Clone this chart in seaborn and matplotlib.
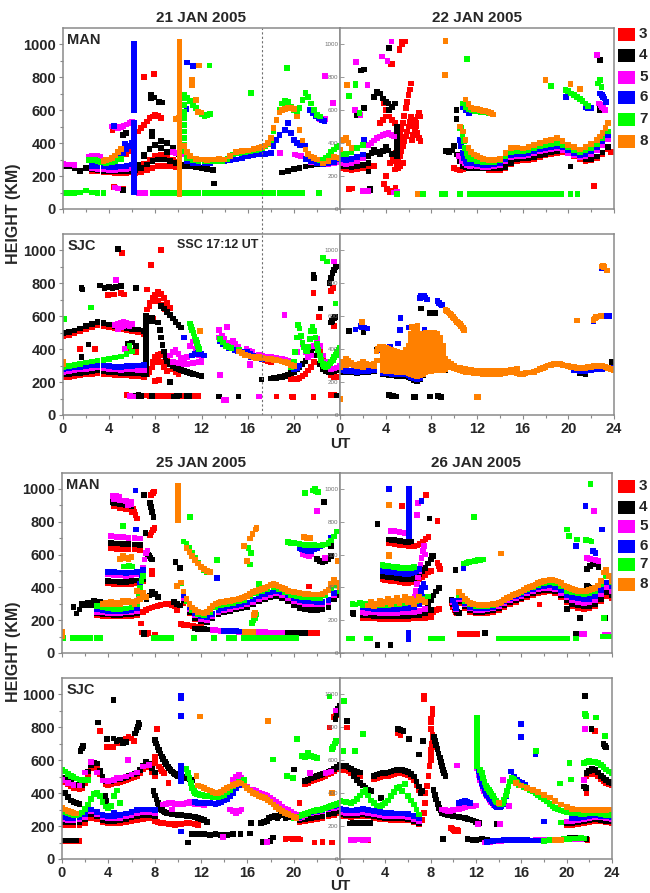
import matplotlib
matplotlib.use('Agg')
import matplotlib.pyplot as plt
import seaborn as sns
import pandas as pd
from matplotlib.patches import Rectangle
from matplotlib.ticker import MultipleLocator, FixedLocator

FREQS = ['3', '4', '5', '6', '7', '8']
COLORS = ['#ff0000', '#000000', '#ff00ff', '#0000ff', '#00ff00', '#ff8000']
DATES = ['21 JAN 2005', '22 JAN 2005', '25 JAN 2005', '26 JAN 2005']
YTICKS = [0, 200, 400, 600, 800, 1000]
XTICKS = [0, 4, 8, 12, 16, 20, 24]

# each entry: (start hour, step hour, [heights km]); step 0 = several echoes at one time
# ---------------- 21 JAN MAN ----------------
MAN21_F3 = [(2.5,0.5,[232,228,225,222,220,218,220,222]),(6.25,0.5,[215,222,235,250,260,262,258,255]),
    (6.5,0.5,[250,272,300,322,330,318,298,285]),(6.5,0.25,[470,490,510,530,550,560,570,565,555]),
    (5.5,0.25,[330,350,370]),(4.3,0,[477]),(4.4,0,[135]),(4.8,0,[125]),(5.2,0,[120]),
    (7.0,0,[800]),(7.9,0,[820]),(8.5,0,[550]),(23.25,0.25,[295,300,305])]
MAN21_F4 = [(0,0.5,[262,258,245,230,250,260]),(2.5,0.5,[240,236,232,230,228,228,230,232]),
    (6.25,0.5,[235,250,270,290,300,300,290,280,270]),(6.5,0.5,[270,320,360,390,410,400,370,330]),
    (7.0,0.5,[330,365,385,370,345]),(5.2,0.25,[450,460]),(5.2,0,[117]),
    (7.6,0,[690,670]),(7.9,0,[675]),(8.3,0,[650]),(8.6,0,[645]),(7.7,0,[440,470]),
    (10.5,0.5,[262,258,252,248,242,235]),(13.1,0,[155]),
    (19.0,0.5,[222,232,242,250,258,265,272,278,284,288,290])]
MAN21_F5 = [(0,0.5,[272,270,265]),(2.25,0.25,[318,322,325,320,315]),(2.5,0.5,[245,243,240,238,238,240,242,245]),
    (4.25,0.25,[500,495,490,495,505,512,520,528]),(4.5,0.25,[130,125]),(6.6,0.25,[97,97,97]),
    (9.5,0.25,[345,340,338,335]),(18.8,0,[340]),(20.1,0.25,[330,325,320]),
    (22.0,0.25,[560,545,540,545]),(22.7,0,[808]),(23.4,0,[642]),(21.0,0.5,[300,285,275,270,270,275,285])]
MAN21_F6 = [(2.5,0.5,[262,260,258,255,255,258,262,270]),(4.75,0.25,[300,320,340,360,380,400]),
    (6.15,0,[100,125,150,175,200,225,250,275,300,325,350,375,400,425,450,475,500,525,600,625,650,675,700,
             725,750,775,800,825,850,875,900,925,950,975,1000]),
    (4.4,0,[505]),(5.4,0,[395]),(10.75,0,[888]),(11.25,0,[865]),(10.7,0,[606]),
    (10.75,0.5,[290,280,275,275,278]),(13.0,0.5,[290,290,292,295,300,308,318,325,330,335,338]),
    (18.25,0.25,[380,420,450]),(19.25,0.25,[480,520,460,420,400,390,385,380]),
    (21.4,0.25,[600,580,560,550,540,535]),(21.0,0.5,[305,290,280,272,275,285,300])]
MAN21_F7 = [(0,0.5,[95,95,96,100,112,100,96,95]),
    (7.75,0.5,[96,95,95,95,97,95,95,95,95,95,95,96,95,95,95,95,95,95,95,95,95,95,95,95,95,95,95]),
    (22.2,0,[95]),(2.25,0.25,[295,300,298,290,285,282,280,282,285,292,300,305]),
    (10.5,0,[350,390,430,470,510,550,590,630,670]),(10.5,0.25,[690,675,655,630,610,590,575,565,570,575]),
    (10.75,0.5,[310,295,290,288,290,292,290,305,330,340,345,352,358]),
    (17.0,0.25,[360,368,378,395,420,470,540,600,640,655,650,620,600,590,610,660,705,680,640,600,570,560]),
    (22.0,0.25,[300,295,298,310,325,345,360,375,385]),(19.4,0,[855]),(12.7,0,[870]),(16.3,0,[703])]
MAN21_F8 = [(3.5,0.25,[290,295,300,310,325,345,365]),
    (10.1,0,[90,110,130,150,170,190,210,230,250,270,290,310,330,350,370,390,410,430,450,470,490,510,530,550,
             570,590,610,630,650,670,690,710,730,750,770,790,810,830,850,870,890,910,930,950,970,990,1010]),
    (9.8,0,[545]),(10.0,0,[555]),(11.2,0,[785,765,750]),(11.8,0,[870]),(11.5,0,[660]),(11.7,0,[590]),(12.0,0,[585]),
    (10.5,0.5,[380,320,305,300,298,300,302,300,320,345,352,355,362,368]),(10.75,0,[345]),
    (17.25,0.25,[375,385,400,430,490,540,585,600,608,612,610,605,560,480,415,360,335,318]),
    (21.75,0,[308]),(22.0,0.5,[300,275,290,315,310])]
# ---------------- 22 JAN MAN ----------------
MAN22_F3 = [(0,0.5,[245,240,238,242,250,255,262]),(4.75,0.125,[300,340,380,415,450,485,520,565,610,650,690,725,760]),
    (5.0,0.125,[260,290,320,350,380,410,440,470,500,530,560]),(4.8,0.25,[240,250,260,280]),
    (6.3,0.125,[420,450,480,520,560,580,560]),(6.3,0.125,[500,520,540,500,460,430,410]),
    (5.4,0,[1016,1000]),(5.7,0,[1016]),(5.2,0,[970,960]),(4.45,0,[875]),(4.6,0,[880]),
    (3.5,0.25,[520,540,560]),(3.8,0.25,[640,600,560,540,520]),(0.8,0,[120]),(1.1,0,[125]),(4.0,0,[198]),
    (3.85,0.25,[150,120,100,110,130]),(4.4,0.25,[280,300,290,260]),
    (10.0,0.25,[250,240,238,242,245,248,250,252,252,250,248]),
    (13.0,0.5,[235,235,238,245,270,292,298,296,302,315,325,333,340,344,336,318,304,290,295,308,332,365]),
    (22.2,0,[141]),(22.3,0,[141]),(23.75,0,[345])]
MAN22_F4 = [(0,0.5,[262,258,255,258,268,280]),(2.5,0.25,[320,340,360,345,330,350,375,355,335]),
    (3.0,0.25,[680,710,700,670,650,640]),(4.3,0.25,[600,620,640]),(5.0,0,[320,350,380,410,440,470,500]),
    (1.5,0,[570]),(2.1,0,[612]),(1.85,0,[840]),(2.1,0,[845]),(4.3,0,[975]),(2.5,0,[228]),(2.6,0,[115,120]),
    (9.3,0.25,[350,345,355]),(10.2,0,[545,600]),(10.0,0.25,[380,330,290,262,252,250,248,248,247,246,245]),
    (13.0,0.5,[245,245,248,255,280,303,308,306,312,325,335,343,350,354,346,328,314,300,305,318,342,375]),
    (20.2,0,[258]),(22.75,0,[905]),(22.8,0,[600,612,625])]
MAN22_F5 = [(0,0.5,[275,270,275,290,310]),(2.5,0.25,[390,400,415,430,440,450,455,460,450,440]),
    (4.5,0,[1016]),(3.7,0,[925]),(4.15,0,[895]),(1.4,0,[890]),(2.4,0,[750]),(1.3,0,[600]),(1.8,0,[570]),
    (2.0,0.25,[110,108,110]),(4.7,0,[100]),(5.0,0,[105]),(10.4,0.25,[320,290,275,265,260]),
    (11.5,0.5,[265,258,255,255,258,268,292,315,320,318,325,338,348,356,362,366,358,340,325,312,318,332,358,390,425]),
    (22.5,0,[935]),(22.7,0.125,[640,630,620,610,600])]
MAN22_F6 = [(0,0.5,[300,298,305,315,330]),(2.1,0,[420]),(10.8,0.25,[620,600,580]),
    (10.5,0.125,[420,380,340,310,290,280]),
    (11.5,0.5,[280,272,268,268,270,280,305,328,333,332,340,352,362,370,376,380,372,355,340,328,335,350,375,410,445]),
    (19.8,0,[679]),(21.5,0.25,[620,610,612]),(22.8,0.125,[700,690,680,670,650])]
MAN22_F7 = [(0,0.5,[330,335,345,370,390]),(0.8,0,[683]),(1.35,0,[760,750]),(1.7,0,[580]),
    (5.0,0,[93]),(7.3,0,[93]),(8.9,0,[93]),(9.25,0,[93]),(10.5,0,[93]),
    (11.4,0.5,[93,93,93,93,93,93,93,93,93,93,93,93,93,93,93,93,93]),(20.2,0,[93]),(20.8,0,[93]),
    (10.5,0,[490]),(10.8,0.25,[640,620,605,598,595,592,590,588,585,580]),
    (10.6,0.125,[490,450,410,370,340,320,305]),
    (11.5,0.5,[300,290,285,283,285,295,320,345,350,348,355,370,380,388,395,400,390,372,358,345,355,370,395,430,470]),
    (11.1,0,[911]),(18.45,0,[747]),(19.75,0.25,[723,715,700,690,680,668,655,640,625]),
    (22.75,0,[784]),(22.6,0,[760]),(22.9,0,[740])]
MAN22_F8 = [(0,0.25,[360,420,430,400,370]),(0.6,0,[753]),(6.8,0,[93]),
    (11.0,0.25,[663,635,615,608,604,600,596,592,588,580]),(13.4,0,[572]),
    (10.5,0.25,[500,470,420,370,345,330,320,312,305]),
    (13.0,0.5,[297,298,305,340,370,372,366,375,390,402,410,420,430,410,388,375,360,375,392,420,460,520]),
    (22.75,0.5,[440,490]),(9.25,0,[1020]),(9.2,0,[814]),(18.0,0,[784]),(20.2,0,[757]),(21.05,0,[727])]
# ---------------- 21 JAN SJC ----------------
SJC21_F3 = [(0,0.5,[478,485,495,508,520,535,545,540,532,525,518,512,506,502,492]),
    (0,0.5,[228,232,236,240,245,250,252,248,245,242,240,240,238,236,232]),
    (7.25,0.25,[250,280,320,350,365,370,360,340,310,280,260,250]),(7.5,0.25,[260,290,320,330,320,290,265]),
    (7.25,0.25,[640,680,710,730,745,735,710,680,650]),(7.5,0.25,[660,690,700,690,670]),
    (7.6,0,[910]),(8.5,0,[1000]),(7.3,0,[760]),(8.6,0,[660]),(8.8,0,[640]),(7.8,0,[585]),
    (3.9,0,[727]),(4.4,0,[730]),(5.0,0,[740]),(5.3,0,[730]),(5.1,0,[980]),
    (1.5,0,[400]),(2.8,0,[400]),(5.8,0,[390]),(6.3,0,[380]),(8.0,0,[208]),(8.3,0,[210]),
    (5.5,0.25,[120,118,116,115,115,116,118,118,117,115,115,115,115,115,115,115,115,115,115,115,115,115,115,115,115,115]),
    (18.5,0,[112]),(19.8,0,[112]),(19.9,0,[110]),(21.7,0,[110]),(23.2,0,[122]),(23.5,0,[120]),
    (17.5,0.25,[330,325,320]),
    (19.75,0.25,[215,218,220,225,235,250,270,290,320,360,390,350,300,262,242,232,228,232]),
    (21.7,0,[740]),(23.4,0,[770]),(22.2,0,[596]),(23.5,0,[540]),(23.2,0,[750])]
SJC21_F4 = [(0,0.5,[495,502,512,525,538,552,562,556,548,540,534,528,522,518,508]),
    (0,0.5,[245,248,252,256,262,268,270,265,262,258,255,255,254,252,250]),
    (1.6,0,[768]),(1.7,0,[760]),(3.2,0,[785]),(3.6,0,[770]),(4.0,0,[775]),(4.3,0,[770]),(4.6,0,[775]),(5.0,0,[780]),
    (4.75,0,[1004]),(1.6,0,[353]),(2.2,0,[428]),(5.6,0,[430]),(6.0,0,[440]),(6.3,0,[420]),(6.3,0,[768]),
    (7.2,0,[600,570,540,510,480,450,420,390,360,330,300,270,250]),
    (8.25,0.125,[560,515,470,425,385,350,325]),(9.25,0.25,[310,295,285,278,272,265,260,255,250,245,240,235]),
    (8.5,0.25,[660,645,625,605,585,565,545,530]),(7.7,0,[590,570]),(9.3,0,[202]),
    (6.3,0.25,[115,120,115]),(9.6,0.25,[112,115,118]),(10.7,0.25,[115,117]),(6.8,0,[115]),(7.7,0,[115]),
    (13.5,0,[112]),(15.2,0,[112]),(23.7,0,[118]),(17.2,0,[215]),
    (18.0,0.25,[222,224,226,229,232,238,245,255,262,275,293,310,328,350,375,405,360,310,280,268,262,262,265,270,275]),
    (21.7,0,[848]),(21.75,0,[830]),(22.3,0,[646]),(23.1,0.125,[800,830,860,880,895,900]),
    (23.2,0.125,[560,570,585,596])]
SJC21_F5 = [(4.5,0.25,[545,555,560,565,560,555,550]),(4.75,0.25,[520,530,540,545,540]),
    (0,0.5,[262,265,270,275,280,286,290,285,280,276,274,275,275,274,272]),(4.6,0,[818]),(5.4,0,[400]),
    (9.25,0.25,[360,380,395,370,345,330,350,420,445,400,360,335]),
    (9.5,0.25,[320,318,315,312,310,310,312,315,318,320,318]),
    (5.8,0.25,[115,112]),(13.9,0,[90]),(14.1,0,[90]),(17.0,0,[112]),(13.5,0,[515]),(14.2,0,[535]),
    (13.5,0.25,[470,480,460,440,430,420]),(13.6,0,[242]),(14.7,0.25,[450,430,415]),(15.9,0.25,[400,390,385]),
    (16.2,0,[300,310]),(17.0,0.25,[362,358,355,352,350,348,345,342,338,332,328,318,308]),
    (20.0,0.25,[300,380,470,430,380,350,360,420,460,420,360,320,290,280,282,288,300]),
    (19.2,0,[606]),(23.5,0,[930])]
SJC21_F6 = [(0,0.5,[280,282,288,292,298,305,305,300,295,292,292,295,298,300,305]),(10.5,0,[470]),
    (11.2,0.25,[360,370,375,370,360]),(13.6,0.25,[450,430,415,405]),(14.9,0.25,[395,390,385]),
    (15.95,0.25,[380,370,360]),(16.25,0,[350]),(17.0,0.25,[345,340,338]),(20.0,0.25,[275,285,300])]
SJC21_F7 = [(0,0.5,[292,298,305,310,318,325,330,335,340,348,355,368,385]),(5.75,0,[420]),(0.1,0,[580]),(2.4,0,[652]),
    (11.0,0.1,[555,535,515,495,475,455,435,415,400]),(13.6,0.25,[460,440,420,410,405]),(15.25,0,[395]),
    (19.75,0.125,[290,300,320,380,470,545,525,480,440,410,392,385,410,460,510,535,510,470,430,395,360,335,310,
                  297,292,295,302,312,325,335,350,365,380,395,405]),
    (22.5,0,[950]),(22.9,0,[930]),(23.6,0,[676])]
SJC21_F8 = [(0,0,[310,320]),(11.85,0,[509]),(15.25,0.25,[385,375,365]),(16.0,0.25,[360,355,350,345]),
    (17.0,0.25,[350,345,342,340,338,335,332,330,325,320,315,305,295])]
# ---------------- 22 JAN SJC ----------------
SJC22_F3 = []
SJC22_F4 = [(0,0.5,[262,260,258,255,258,260,265]),(0.8,0,[511]),(2.05,0,[505]),(3.25,0,[395]),
    (3.75,0.25,[245,245,242,240,240,238,238,236,235,230,222,212,208,215,240,260,270,275,278,280,280,278,270]),
    (7.1,0,[646]),(7.85,0,[616]),(8.3,0,[616]),(4.3,0.125,[120,118,115,113,112,112]),(6.5,0.125,[108,108]),
    (7.9,0,[112]),(8.6,0.125,[115,112,110]),(21.0,0.25,[255,252,250]),(23.8,0,[320])]
SJC22_F5 = []
SJC22_F6 = [(0,0.5,[270,268,265,262,265,268,272]),(1.35,0,[519]),(1.9,0.25,[535,530,525]),(1.8,0,[540]),(3.3,0,[395]),
    (3.75,0.25,[255,255,252,250,250,248,248,246,245,240,232,222,218,225,250,270,280,285,288,290,290,288,280]),
    (7.0,0.125,[710,720,725,720,712,700]),(8.55,0.125,[690,680,670,665]),
    (5.3,0,[586]),(5.25,0,[515]),(6.05,0,[530]),(7.4,0,[515]),(5.1,0,[434]),(4.4,0,[414]),
    (22.95,0,[890]),(22.2,0,[566]),(23.55,0,[600]),(23.4,0,[600]),(20.5,0.5,[270,268,265,270,275,280,282,285])]
SJC22_F7 = []
SJC22_F8 = [(0,0.25,[310,320,340,330,315,305,300,310,325,310,302,305,312,330]),(0,0.5,[290,300,310,295,290,300,295]),
    (1.9,0,[565]),(3.2,0.125,[385,400,414]),
    (3.75,0.25,[410,405,400,395,390,385,378,376,385,420,490,530,520,490,492,495,495,495,495,492,470,420,340]),
    (3.75,0.25,[270,268,266,265,264,262,262,262,260,255,250,240,235,240,250,260,265,268,270,272,272,270,275]),
    (3.75,0.25,[285,284,282,281,280,279,279,278,276,272,268,260,256,261,270,279,283,285,288,290,290,288,290]),
    (3.75,0.25,[300,300,298,298,296,295,295,294,292,290,285,280,278,282,290,298,300,302,305,305,305,305,305]),
    (3.75,0.25,[320,319,317,316,315,314,313,312,311,310,308,307,309,312,318,322,323,324,325,325,325,325]),
    (3.75,0.25,[340,338,336,335,334,333,332,330,330,330,332,335,340,342,345,345,345,345,345,345,345,345]),
    (3.75,0.25,[358,356,354,352,350,348,346,344,348,355,360,362,365,366,365,365,365,365,365,365,365,365]),
    (3.75,0.25,[375,372,370,368,365,362,358,356,365,380,385,390,390,388,385,385,385,385,385,385,385,385]),
    (5.75,0.25,[395,400,405,408,410,410,408,405,408,410,410,410,408,405]),
    (6.0,0.25,[415,425,430,430,425,425,428,430,430,430,428,420]),
    (6.25,0.25,[440,445,448,445,442,440,442,445,445,442,440]),
    (6.25,0.25,[460,470,465,460,458,460,462,462,460,455]),
    (6.25,0.25,[480,500,495,478,470,472,475,478,476,470]),
    (6.3,0,[535]),(6.8,0,[540]),(9.25,0.125,[636,630,622,615,605,595,585,575,565,558,550,540,528,515]),
    (9.25,0.25,[330,320,310]),
    (9.5,0.25,[300,290,283,278,272,265,262,260,258,255,252,251,250,249,248,248,249,250,250,252,256,262,262,258,
               252,248,250,254,257,258,262,270,278,283,290,300,305,308,310,308,305,300,296,293,290,287,284,283,
               285,290,293,295,297,297,296,292,285,278,272]),
    (9.5,0.5,[318,300,288,280,275,270,268,266,265,266,268,275,280]),
    (12.0,0,[107]),(12.1,0,[107]),(0.05,0,[97]),(22.9,0.125,[900,905,895]),(23.4,0,[875]),(20.75,0,[572]),
    (22.2,0.125,[575,585,595]),(22.85,0,[600])]
# ---------------- 25 JAN MAN ----------------
MAN25_F3 = [(3.0,0.5,[230,226,224,222,222,224,226,232]),(4.0,0.5,[425,420,418,420,422,428,440]),
    (4.25,0.5,[640,635,632,630,630,628]),(4.5,0.5,[895,885,875,860]),(6.1,0.125,[880,860,840,820]),(5.3,0,[905]),
    (7.7,0.125,[965,975,985]),(7.6,0.125,[720,735,750,760]),(7.8,0,[500,480]),
    (7.0,0.25,[250,262,272,278,283,288,292,296,300,298,292,288]),(6.9,0.125,[125,122,120,118,120]),(8.0,0,[112]),
    (6.8,0,[180]),(9.9,0,[280,260]),(10.5,0.5,[305,240,205,188]),(10.3,0.25,[175,172,170,168,165,162,160,158]),
    (19.0,0.25,[125,124,124,123,122,122,122,121,121,120,120,120,120]),(21.3,0,[406])]
MAN25_F4 = [(1.0,0.25,[280,240,265,300,290,305,290,315,300,310,295]),(3.0,0.5,[240,236,234,232,232,234,236,242]),
    (4.0,0.5,[440,435,433,434,437,442,452]),(4.25,0.5,[672,668,665,664,662,660]),(4.5,0.5,[915,905,900,895]),
    (4.4,0.25,[920,915,915]),(5.1,0,[905]),(6.0,0,[900]),(7.1,0,[965]),(7.6,0.1,[915,890,860,830]),(7.2,0,[730]),
    (7.4,0.125,[600,590,580,570]),(7.3,0.25,[330,350,370,360,340]),(7.1,0,[118,125]),(9.7,0.25,[310,300,290]),
    (9.8,0,[553]),(10.2,0,[518]),
    (10.5,0.5,[320,250,215,196,190,210,236,250,258,265,272,282,298,315,326,338,348,335,316,290,275,266,262,262,265,280,330,350]),
    (11.5,0.25,[150,148,146,145,144,143,142,142]),(19.5,0.25,[125,124,122,122,120,120,120]),(18.4,0,[125]),
    (22.6,0,[919]),(22.0,0.25,[575,560,555,560,570,590]),(23.2,0,[650])]
MAN25_F5 = [(3.0,0.5,[252,248,245,244,244,246,250,258]),(6.5,0.125,[290,340,400,460,520,570,610,625]),
    (4.0,0.5,[480,476,472,470,472,478,488]),(4.25,0.5,[712,708,705,703,700,698]),(4.5,0.5,[940,930,925,920]),
    (4.4,0.25,[955,960,950]),(5.7,0.25,[900,905]),
    (10.5,0.5,[335,265,228,208,202,222,248,262,270,277,285,295,312,330,342,354,365,353,335,318,308,300,296,295,297,308,350,380]),
    (13.0,0.25,[140,138,137,136,135,134,133,132,131,130,130,130,129,128,128,127,127,126,126,125,125,125,124,124,124]),
    (22.0,0,[864]),(20.8,0.25,[600,595,590,600]),(22.7,0,[580])]
MAN25_F6 = [(3.0,0.5,[268,262,258,256,256,258,262,275]),(6.5,0.125,[310,360,420,470,500]),
    (4.0,0.5,[495,493,490,488,490,495,505]),(6.4,0,[752]),(6.35,0,[990]),
    (10.5,0.5,[350,280,242,222,216,236,262,276,283,290,298,308,326,344,356,368,380,368,350,334,325,318,314,312,313,324,365,395]),
    (14.0,0.25,[136,135,134,133,132,131]),(13.4,0,[457]),(20.5,0.25,[640,630,625,620,622,630,640,650]),(23.25,0,[700])]
MAN25_F7 = [(0.1,0,[90]),(0.9,0.25,[90,90,90]),(1.9,0.25,[90,90,90]),(3.0,0.25,[90,90]),
    (7.9,0.25,[90,90,90,90,90,90,90]),(11.4,0,[90]),(13.1,0,[90]),(14.4,0.25,[90,90,90]),
    (15.7,0.25,[90,90,90,90,90,90,90,90,90,90,90,90,90,90,90,90,90,90,90]),
    (3.0,0.5,[285,278,272,270,270,272,278,295]),(6.5,0.125,[320,360,400,440,470]),(5.26,0,[776]),
    (5.3,0.25,[528,528,530,528]),
    (10.25,0.5,[425,318,262,236,228,252,282,294,300,306,314,324,344,364,376,389,404,388,368,355,348,343,338,336,337,350,395,415]),
    (24.0,0,[380]),(10.5,0.25,[680,665,640,610,580,550,525,505,490]),(11.05,0,[827]),(13.4,0,[565]),
    (16.1,0,[640]),(16.2,0,[539]),(16.3,0,[610]),(16.4,0.125,[183,200,215,235]),(17.0,0,[420]),
    (21.0,0,[976]),(21.7,0.125,[990,1000,985,980]),
    (19.5,0.25,[675,672,670,668,665,662,660,660,660,658,655,655,658,662,670,685,710,740])]
MAN25_F8 = [(0,0,[100,115,130]),(3.5,0.25,[300,308,296,312,300,306,300,315,308,320,310,300,315,330,365,340]),
    (6.5,0,[376]),(5.0,0.25,[575,590,580,570,585]),(10.0,0,[810,840,870,900,930,960,990,1016]),(9.9,0,[407]),
    (10.25,0.25,[430,375,330,298,278,262,252,246,244,252,268,285,298,306,310,313,315,318,322,326,330,335,340,348,
                 360,372,380,386,392,398,405,415,422,416,406,396,388,380,375,372,369,366,363,360,358,356,356,356,
                 357,360,370,386,420,445,430,400]),
    (10.75,0.25,[640,615,590,565,545,525,510,500,495]),(15.75,0.25,[130,130,128,128]),(15.7,0,[650]),
    (16.2,0.25,[697,725,752]),(16.0,0,[559]),(16.8,0,[760]),(16.55,0.125,[230,245]),(20.9,0.25,[705,700,700]),
    (23.8,0,[560])]
# ---------------- 26 JAN MAN ----------------
MAN26_F3 = [(2.0,0.5,[215,212,210,208,206,205,205,206,208,210,212,215,220]),(7.5,0.25,[225,230,240,250,260,268]),
    (3.75,0.25,[448,445,442,440,438,435,432,430,428,428,430,432,438,448,460,475,490,498]),
    (4.3,0.25,[672,668,665,662,660,658,655,652,650,650,655,665,680,695,705]),
    (5.45,0,[894]),(7.6,0,[965]),(8.6,0,[803]),(8.6,0.125,[550,530,510]),(9.85,0.125,[305,280,262,248,240]),
    (10.6,0.25,[115,115,115,115,115,115,115]),
    (10.5,0.5,[305,275,252,242,240,243,250,262,282,298,312,326,342,355,365,372,374,362,338,310,288,276,270,272,284,315,345,335]),
    (17.6,0,[295]),(23.5,0,[100])]
MAN26_F4 = [(1.15,0,[244]),(1.2,0,[235]),(2.0,0.25,[260,255,250]),
    (2.0,0.5,[232,228,226,224,222,222,223,224,226,228,232,240,260]),(7.0,0.25,[245,255,270,290,320,350,375,395]),
    (3.75,0.25,[470,468,465,463,460,458,455,452,450,450,452,458,468,482,500,520,545,570,590]),
    (4.3,0.25,[692,690,688,685,682,680,678,678,680]),(3.3,0,[787]),(7.9,0,[819]),(8.1,0,[589]),
    (3.3,0,[47]),(4.45,0,[47]),(9.85,0.125,[325,300,280,262,250,245]),(10.2,0,[508]),(12.8,0,[120]),
    (10.5,0.5,[315,285,262,252,250,253,260,272,292,308,322,336,352,365,375,382,384,374,350,322,300,290,283,285,298,330,370,355]),
    (20.05,0,[270]),(21.2,0,[213]),(20.8,0.25,[116,116]),(21.8,0.25,[510,530,550,540,525]),
    (21.8,0.125,[410,405,400]),(23.4,0,[215])]
MAN26_F5 = [(2.0,0.25,[255,245]),(2.0,0.5,[252,248,246,244,243,243,244,246,248,252,258,270]),
    (6.5,0.1,[300,340,380,420,460,500,540,580,620,650,600]),(4.5,0.25,[745,742,740,738,735,730,728]),
    (6.9,0,[915]),(6.8,0,[843]),(10.0,0.125,[310,285,268]),
    (10.5,0.5,[328,295,272,262,262,265,272,285,305,320,334,348,364,378,388,396,398,388,365,338,320,310,305,308,320,358,400,380]),
    (21.8,0.25,[580,575,570,565,560]),(22.4,0,[864]),(21.3,0.25,[116,116]),(23.4,0.125,[110,105,110])]
MAN26_F6 = [(2.0,0.5,[278,274,270,268,266,268,270,272,276,282,300,340]),(7.0,0.125,[340,380,400,420,400]),
    (3.75,0.25,[500,498,495,492,490,488,486,484,482,482,485,490,498,510]),
    (6.1,0,[710,740,770,800,830,860,890,920,950,980,1000]),(4.35,0,[1000]),(7.2,0,[925]),(6.05,0,[87,122]),
    (10.0,0.125,[320,295,275]),
    (10.5,0.5,[340,305,282,272,272,275,282,295,315,332,346,360,376,390,400,408,412,404,382,355,340,332,328,330,345,385,430,405]),
    (10.9,0,[520]),(20.8,0,[654]),(22.3,0.25,[620,610]),(21.65,0,[894]),(23.1,0,[752])]
MAN26_F7 = [(0.8,0.25,[88,88]),(2.4,0.25,[88,88]),(8.0,0.25,[88,88,88,88,88]),
    (14.0,0.5,[88,88,88,88,88,88,88,88,88,88,88,88,88]),(20.8,0,[88]),(23.2,0.25,[100,100,100,100]),
    (1.1,0,[300]),(1.3,0,[295]),(2.0,0.25,[290,300,295]),
    (1.75,0.5,[305,300,296,292,290,292,296,300,305,310,318,330,345]),
    (3.75,0.25,[535,532,530,528,525,522,520,518,516,515,518,522]),
    (10.5,0.5,[355,318,295,285,284,286,292,305,325,342,356,372,390,404,415,424,430,425,405,380,368,362,360,364,378,420,470,430]),
    (11.85,0,[827]),(10.9,0.25,[545,550,555,558,562,565,568,570]),(20.0,0,[752]),(20.2,0,[711]),(20.9,0,[691]),
    (21.7,0.25,[690,685,680]),(22.1,0,[1030]),(23.3,0,[215])]
MAN26_F8 = [(2.5,0.25,[290,310,285,300,320,295,310,330,300,315,335,305,320,345,310,330,300,320,340,325,310]),
    (4.35,0,[904]),(4.3,0,[600,590]),
    (10.5,0.25,[370,350,330,316,306,298,295,293,292,292,293,295,297,300,304,312,322,333,343,352,360,367,375,385,
                395,403,410,418,425,431,437,442,446,446,442,436,425,412,402,394,388,384,380,377,376,378,383,388,
                398,412,440,490,505,470,440]),
    (14.2,0,[606])]
# ---------------- 25 JAN SJC ----------------
SJC25_F3 = [(0,0.25,[472,465,452,442,432,428,426,430,460,510,550,565,558,515,475,454,450,452,458,462,466,472,478,485,
                     492,496,502,520,543,570,555,528,505]),
    (0,0.5,[207,205,205,208,220,250,240,222,215,215,218,222,230,238,242,245,240]),(0,0.25,[108,110,108,110,108,110,108]),
    (3.25,0,[776]),(3.9,0.25,[680,675,680]),(4.7,0,[700]),(5.0,0.25,[705,715,728,740,730]),(6.2,0,[717]),(8.2,0,[787]),
    (8.4,0.125,[560,545,530,520]),(8.0,0,[620,580]),
    (8.0,0.25,[230,225,220,218,215,212,210,208,210,212,215,218,220,215,210,205]),(9.2,0,[460]),
    (19.3,0,[120]),(19.8,0.125,[125,122,120,122,125,120,118]),(21.8,0,[100]),(22.5,0,[105]),(23.3,0,[100]),(20.5,0,[340]),
    (20.5,0.5,[222,228,235,242,250,258,265,275]),(21.0,0.25,[455,462,470,478,485,492,498,505,512,520,530,545,558]),
    (23.5,0.125,[860,870]),(23.1,0,[797])]
SJC25_F4 = [(0,0.25,[492,485,472,462,452,448,446,450,480,530,570,585,578,535,495,474,470,472,478,482,486,492,498,505,
                     512,516,522,540,563,590,575,548,525]),
    (0,0.5,[225,222,222,225,240,272,258,238,232,232,236,242,252,262,266,268,262]),(0,0.25,[112,112,112,112,112,112]),
    (0.25,0.25,[400,375,355,345,338,332]),(1.6,0.1,[655,670,685]),(3.1,0,[827]),(3.9,0,[726]),(4.45,0,[965,730]),
    (4.7,0,[715]),(5.0,0.25,[720,700,710]),(6.3,0.125,[760,780,800,815]),(6.6,0,[827]),(3.7,0,[380]),(3.85,0,[350]),
    (8.0,0.125,[720,700,680,660,640,622,605,590,575,560,548,538,530,522,515,510,505,502]),
    (10.25,0.25,[500,495,490,485,480]),(7.9,0.125,[410,385,360,340,320,305,295,288,282,278]),
    (9.25,0.25,[275,272,270,268,266,264,262,260,258,254,248,242,236,225]),(10.9,0,[100]),
    (11.25,0.25,[150,152,150,148,150,148,146,148,150,148,146,145,146,148,150]),
    (15.4,0,[150]),(16.2,0,[155]),(17.3,0,[105]),(17.6,0,[105]),(18.0,0,[110]),(18.2,0,[130]),
    (16.3,0,[220]),(17.2,0.25,[218,225,232]),(17.9,0.25,[250,255,260,262,265]),(18.6,0,[245]),
    (19.3,0.25,[250,255,258,260]),(20.0,0,[543]),(20.5,0.5,[235,240,248,255,262,270,280,290]),
    (21.0,0.25,[472,480,488,495,502,508,515,522,528,535,545,558,570]),(23.6,0.125,[850,880,910,930])]
SJC25_F5 = [(0,0.5,[480,462,448,445,525,588,525,475,474,480,490,500,512,525,560,570]),
    (0,0.5,[240,236,236,240,255,288,272,252,246,246,250,258,268,278,282,284,278]),(5.7,0,[600]),(4.7,0,[490]),
    (8.75,0.25,[330,335,340,338,335,332,330,335,340,345,340,335,332,330,328]),(9.5,0,[300]),
    (14.75,0.25,[480,500,510,490,460,440,420,410,400,395]),(14.5,0.25,[300,290,280,290,300]),
    (16.5,0.25,[420,412,402,395,388,380,370,358,345,332,318,305,295,285,275,268,262,256]),
    (13.9,0,[135]),(17.7,0,[105]),(20.5,0.5,[250,265,275,282,290,300,308,315]),(21.4,0,[520]),
    (22.75,0.25,[520,525,530]),(23.6,0,[900])]
SJC25_F6 = [(0,0.5,[255,250,250,255,270,300,285,268,260,262,265,275,285,295,300,300,295]),(4.5,0,[282]),
    (10.3,0,[990,975,868,472,500,530,563,166]),(11.5,0.25,[345,340,338]),
    (12.5,0.25,[340,338,336,335,338,345,355,365,380,400,430,450]),(20.5,0.5,[255,272,282,290,298,308,318,325])]
SJC25_F7 = [(0,0.25,[540,530,515,505,495,488,482,478,475,478]),
    (0,0.25,[290,285,278,272,268,266,270,282,302,330,362,392,400,380,345,318,306,320,380,415,340]),
    (10.75,0.125,[545,520,490,460,430,410,400,395,392,390,388,386,385,384,383]),
    (12.5,0.25,[380,378,376,375,376,380,390,405,420,440,455,465,460]),(15.7,0,[480]),
    (18.2,0,[603]),(19.4,0,[502]),(19.95,0,[490]),(20.3,0,[726]),
    (20.0,0.25,[248,252,258,265,272,280,288,292,295,298,302,308,314,320,326,332,338]),
    (20.75,0.25,[625,615,645,625,620,610]),(23.3,0.125,[665,680,700,715]),(23.1,0,[985])]
SJC25_F8 = [(0,0.25,[310,300,290,285,280,275]),(11.6,0,[502]),(11.9,0,[864]),
    (11.75,0.25,[445,440,432,422,415,408,402,400,405,418,430,440,450,456,461,458,445,430,415,402,392,384,376,368,
                 358,345,330,315,302,290,280,272,264,256,250]),
    (17.8,0,[837]),(23.3,0,[400])]
# ---------------- 26 JAN SJC ----------------
SJC26_F3 = [(0,0.25,[540,545,540,530,520,510,505,500]),
    (3.0,0.25,[485,492,498,500,502,505,510,516,520,523,520,515,508,495,480,450,420]),
    (0,0.5,[262,258,255,258,262,258,250,244,240,238,236,236,234,222,210]),(2.5,0,[116]),(0.6,0,[797]),
    (5.1,0.25,[760,750]),(7.25,0,[238]),(7.4,0,[278]),(7.5,0,[340]),(7.55,0,[400]),(7.65,0,[441]),(7.8,0,[502]),
    (7.9,0,[563]),(8.0,0,[600,624,660]),(8.1,0,[675,700]),(8.15,0,[726,750]),(8.05,0,[790,827,850]),
    (8.15,0,[880,908]),(7.4,0,[970,990]),(9.8,0.125,[187,180,172,167]),(10.3,0.125,[178,170]),
    (21.6,0.125,[120,118,115]),(20.2,0,[221]),(20.0,0.5,[205,208,212,215,222,230,228,222,218]),
    (21.75,0.25,[500,515,520,515,500,485,470,460,452,445]),(22.5,0,[776]),(21.75,0,[400,410])]
SJC26_F4 = [(0,0.25,[560,565,562,555,545,535,528,525]),(1.25,0.25,[500,480,460,445,430,420,410]),
    (3.0,0.25,[505,512,518,520,522,525,530,536,540,543,540,535,528,515,500,470,440]),
    (0,0.5,[272,268,265,268,272,268,260,254,250,248,246,246,244,232,220]),(0.9,0.25,[215,218,220,222,220,218,215,218]),
    (0.6,0,[837]),(5.1,0.25,[790,780,775]),(6.1,0,[726]),(7.3,0,[716]),(7.0,0,[634]),(3.6,0,[370]),
    (7.1,0.125,[400,410]),(8.3,0.1,[740,715,690,665,640,615,590,565,540,520,505]),
    (8.25,0.125,[420,390,360,335,310,295,280]),(9.25,0.25,[272,268,265,262,258,255,251,247,243,239,234,226,217]),
    (9.1,0,[122]),(13.8,0,[210]),(11.25,0.25,[120,118,115,115,118,120,115,118]),
    (19.5,0.25,[118,122,125,128,130,130,128,126,124,122]),(20.0,0.5,[215,220,225,228,235,242,238,232,228]),
    (21.5,0.25,[440,520,535,545,540,525,505,490,478,468,460]),(21.6,0,[990]),(22.2,0,[787]),
    (23.25,0.125,[695,685,675]),(21.7,0,[430])]
SJC26_F5 = [(0,0.5,[284,280,276,280,284,280,272,266,262,260,258,258,256,244,232]),(1.0,0.25,[116,116,118,118,116,116,118]),
    (9.0,0.25,[300,295,290,292,295,300,305,310,315,318,320,322,325]),(10.3,0,[567]),(12.2,0,[210]),(14.1,0,[210]),
    (12.75,0.5,[100,104,106,110,112,112,112,112,112,113,114,115,116,116,118,120,122,122]),
    (12.1,0.125,[550,510,480,455,432,412,395,380,368,356,346,336,328,320]),(14.9,0,[320]),(14.4,0,[480]),
    (20.0,0.5,[228,232,236,240,248,256,252,246,242]),(21.6,0,[787]),(21.5,0,[480])]
SJC26_F6 = [(0,0.5,[302,298,294,298,302,298,290,284,280,278,276,276,274,262,250]),(10.5,0.25,[340,345,350,345,340]),
    (13.0,0.5,[104,108,112,115,115,114,114,113,112,112]),
    (12.125,0.125,[570,530,495,462,440,420,402,385,372,360,348,338,328,320,315,312,312,318,330,350,380,410,440]),
    (15.1,0.25,[530,500,480,470,460,450]),(16.0,0,[817,740]),(17.25,0,[634]),(18.0,0,[228]),
    (20.5,0.5,[245,248,255,262,268,262,258,255])]
SJC26_F7 = [(0,0.25,[350,348,345,342,340,348,362,385,405,420,385,355,338,325,320,328,338,355,380,405,430,438,410,455,
                     380,355,330,300,270]),
    (0.35,0,[959]),(2.0,0,[756]),(0.3,0,[654]),(1.3,0,[654]),(12.1,0,[858,830,800,770,740,710,685,655,624,595,563]),
    (12.375,0.125,[540,522,490,465,445,430,418,405,392,380,365,352,342,336,332,330,340,358,385,410,440,470,490,488,
                   482,470,460]),
    (15.75,0.25,[450,445,435,428,418,410,400,390,376,362,350,335,320,308,300,294,290,286,282,278,276,275,274,274,
                 275,277,278,277,275,272,270,268,268,268]),
    (17.3,0,[654]),(19.5,0,[221]),(20.25,0,[583]),(20.4,0,[482]),(19.4,0,[457]),
    (18.0,0.25,[110,112,113,114,115,116,118,120,120,122,124,124,125,126,125]),
    (21.5,0.25,[583,590,593,590,586,580,570,556,543,530,518]),(21.6,0.125,[878,868]),(22.6,0,[858]),(23.4,0,[746])]
SJC26_F8 = [(14.0,0,[340]),(15.5,0.5,[460,445,432,418,404,390,372,352,330,315,305,300,298,296,295,296,298,300]),
    (19.0,0.25,[115,116,117])]

PANEL_DATA = [
    [MAN21_F3, MAN21_F4, MAN21_F5, MAN21_F6, MAN21_F7, MAN21_F8],
    [MAN22_F3, MAN22_F4, MAN22_F5, MAN22_F6, MAN22_F7, MAN22_F8],
    [SJC21_F3, SJC21_F4, SJC21_F5, SJC21_F6, SJC21_F7, SJC21_F8],
    [SJC22_F3, SJC22_F4, SJC22_F5, SJC22_F6, SJC22_F7, SJC22_F8],
    [MAN25_F3, MAN25_F4, MAN25_F5, MAN25_F6, MAN25_F7, MAN25_F8],
    [MAN26_F3, MAN26_F4, MAN26_F5, MAN26_F6, MAN26_F7, MAN26_F8],
    [SJC25_F3, SJC25_F4, SJC25_F5, SJC25_F6, SJC25_F7, SJC25_F8],
    [SJC26_F3, SJC26_F4, SJC26_F5, SJC26_F6, SJC26_F7, SJC26_F8],
]


def to_frame(traces):
    rows = []
    for f, runs in zip(FREQS, traces):
        for t0, dt, vals in runs:
            for i, v in enumerate(vals):
                rows.append((t0 + i * dt, v, f))
    return pd.DataFrame(rows, columns=['t', 'h', 'f'])


sns.set_style('white')
plt.rcParams['font.family'] = ['Liberation Sans', 'DejaVu Sans']
plt.rcParams['font.weight'] = 'bold'

W, H = 650, 893
fig = plt.figure(figsize=(6.5, 8.93), dpi=100)


def add_ax(x0, top, x1, bottom):
    return fig.add_axes([x0 / W, 1 - bottom / H, (x1 - x0) / W, (bottom - top) / H])


BOXES = [(63, 28, 340, 209), (340, 28, 614, 209), (63, 234, 340, 415), (340, 234, 614, 415),
         (62, 473, 340, 653), (340, 473, 612, 653), (62, 678, 340, 859), (340, 678, 612, 859)]
axes = [add_ax(*b) for b in BOXES]

for k, ax in enumerate(axes):
    df = to_frame(PANEL_DATA[k])
    sns.scatterplot(data=df, x='t', y='h', hue='f', hue_order=FREQS, palette=COLORS,
                    marker='s', s=17, linewidth=0, legend=False, ax=ax)
    ax.set_xlim(0, 24)
    ax.set_ylim(0, 1097)
    ax.set_xlabel('')
    ax.set_ylabel('')
    for sp in ax.spines.values():
        sp.set_color('#8a8a8a')
        sp.set_linewidth(1.1)
    ax.xaxis.set_major_locator(FixedLocator(XTICKS))
    ax.xaxis.set_minor_locator(MultipleLocator(2))
    ax.yaxis.set_major_locator(FixedLocator(YTICKS))
    ax.yaxis.set_minor_locator(MultipleLocator(100))
    left = (k % 2 == 0)
    bottom_row = k in (2, 3, 6, 7)
    ax.tick_params(axis='x', which='both', direction='out', length=3, width=0.8, color='#8a8a8a',
                   bottom=True, top=False, labelbottom=bottom_row, labelsize=10.5, pad=2)
    ax.tick_params(axis='x', which='minor', length=2)
    if left:
        ax.tick_params(axis='y', which='both', direction='out', length=3, width=0.8, color='#8a8a8a',
                       left=True, labelsize=10.5, pad=2)
        ax.tick_params(axis='y', which='minor', length=2)
        ax.set_yticklabels([str(v) for v in YTICKS], fontweight='bold')
    else:
        ax.tick_params(axis='y', which='major', direction='in', length=3, width=0.6, color='#8a8a8a',
                       left=True, labelsize=4.5, labelcolor='#707070', pad=1)
        ax.tick_params(axis='y', which='minor', left=False)
        ax.set_yticklabels([str(v) for v in YTICKS], fontweight='normal')
    if bottom_row:
        labs = [str(v) for v in XTICKS]
        if left:
            labs[-1] = ''
        ax.set_xticklabels(labs, fontweight='bold')

for ax, d in zip([axes[0], axes[1], axes[4], axes[5]], DATES):
    ax.set_title(d, fontsize=11, fontweight='bold', pad=4)

for ax, st in zip([axes[0], axes[2], axes[4], axes[6]], ['MAN', 'SJC', 'MAN', 'SJC']):
    ax.text(0.015, 0.975, st, transform=ax.transAxes, ha='left', va='top', fontsize=10.5, fontweight='bold')
axes[2].text(16.9, 0.975, 'SSC 17:12 UT', transform=axes[2].get_xaxis_transform(), ha='right', va='top',
             fontsize=9, fontweight='bold')

dash = dict(color='#707070', lw=0.8, ls=(0, (2, 2)))
axes[0].axvline(17.2, ymin=-25 / 181, ymax=1, clip_on=False, **dash)
axes[2].axvline(17.2, ymin=0, ymax=1, **dash)

# legends
for centers in ([34, 55, 77, 97, 119, 141], [486, 507, 526, 546, 564, 584]):
    for f, c, cy in zip(FREQS, COLORS, centers):
        fig.add_artist(Rectangle((618 / W, 1 - (cy + 6.5) / H), 17 / W, 13 / H, transform=fig.transFigure,
                                 facecolor=c, edgecolor='none'))
        fig.text(639 / W, 1 - cy / H, f, ha='left', va='center', fontsize=11, fontweight='bold')

fig.text(13.5 / W, 1 - 214 / H, 'HEIGHT (KM)', rotation=90, ha='center', va='center', fontsize=11.5,
         fontweight='bold')
fig.text(13.5 / W, 1 - 652 / H, 'HEIGHT (KM)', rotation=90, ha='center', va='center', fontsize=11.5,
         fontweight='bold')
fig.text(340 / W, 1 - 444 / H, 'UT', ha='center', va='center', fontsize=11, fontweight='bold')
fig.text(340 / W, 1 - 886 / H, 'UT', ha='center', va='center', fontsize=11, fontweight='bold')

fig.savefig('out.png', dpi=100, facecolor='white')
